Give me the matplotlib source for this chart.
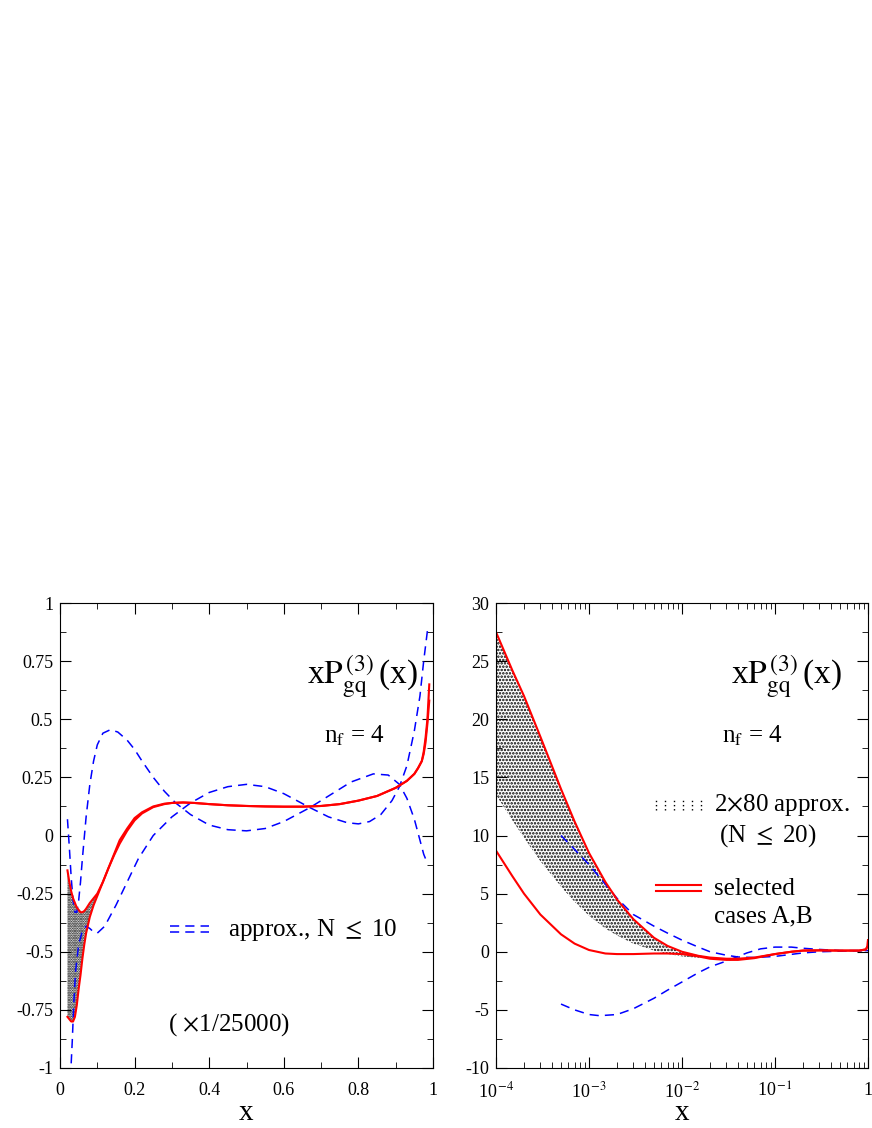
import matplotlib
matplotlib.use("Agg")
import matplotlib.pyplot as plt
import numpy as np
from matplotlib.ticker import MultipleLocator, LogLocator, NullFormatter, FixedLocator

plt.rcParams['font.family'] = 'Liberation Serif'
plt.rcParams['mathtext.fontset'] = 'stix'
plt.rcParams['axes.unicode_minus'] = False

# ---- left panel data (x linear) ----
L_redA_x = [0.02, 0.025, 0.03, 0.035, 0.04, 0.045, 0.05, 0.055, 0.06, 0.065, 0.07, 0.08, 0.09, 0.1, 0.115, 0.13, 0.145, 0.16, 0.18, 0.2, 0.22, 0.25, 0.28, 0.3, 0.33, 0.36, 0.4, 0.45, 0.5, 0.55, 0.6, 0.65, 0.7, 0.75, 0.8, 0.85, 0.9, 0.93, 0.95, 0.96, 0.97, 0.975, 0.98, 0.985, 0.99]
L_redA_y = [-0.15, -0.2, -0.24, -0.27, -0.29, -0.31, -0.32, -0.33, -0.33, -0.325, -0.315, -0.29, -0.27, -0.25, -0.2, -0.14, -0.08, -0.02, 0.03, 0.075, 0.1, 0.125, 0.137, 0.14, 0.142, 0.14, 0.135, 0.13, 0.127, 0.125, 0.124, 0.124, 0.127, 0.135, 0.15, 0.17, 0.205, 0.235, 0.265, 0.29, 0.32, 0.36, 0.42, 0.5, 0.65]
L_redB_x = [0.02, 0.025, 0.03, 0.035, 0.04, 0.045, 0.05, 0.055, 0.06, 0.065, 0.07, 0.08, 0.09, 0.1, 0.115, 0.13, 0.145, 0.16, 0.18, 0.2, 0.22, 0.25, 0.28, 0.3, 0.33, 0.36, 0.4, 0.45, 0.5, 0.55, 0.6, 0.65, 0.7, 0.75, 0.8, 0.85, 0.9, 0.93, 0.95, 0.96, 0.97, 0.975, 0.98, 0.985, 0.99]
L_redB_y = [-0.78, -0.79, -0.8, -0.8, -0.78, -0.73, -0.66, -0.6, -0.53, -0.47, -0.42, -0.35, -0.3, -0.26, -0.2, -0.14, -0.085, -0.035, 0.02, 0.065, 0.095, 0.122, 0.135, 0.14, 0.142, 0.14, 0.135, 0.13, 0.127, 0.125, 0.124, 0.124, 0.127, 0.135, 0.15, 0.17, 0.205, 0.235, 0.265, 0.29, 0.32, 0.35, 0.4, 0.48, 0.58]
L_bl1_x = [0.02, 0.025, 0.03, 0.035, 0.04, 0.045, 0.05, 0.055, 0.06, 0.07, 0.08, 0.09, 0.1, 0.115, 0.135, 0.155, 0.18, 0.2, 0.22, 0.25, 0.28, 0.31, 0.35, 0.4, 0.45, 0.5, 0.55, 0.6, 0.67, 0.72, 0.78, 0.84, 0.88, 0.91, 0.93, 0.95, 0.965, 0.975, 0.985]
L_bl1_y = [0.07, -0.05, -0.18, -0.28, -0.33, -0.33, -0.28, -0.2, -0.1, 0.08, 0.22, 0.32, 0.39, 0.44, 0.455, 0.445, 0.41, 0.37, 0.32, 0.25, 0.19, 0.14, 0.09, 0.045, 0.025, 0.02, 0.03, 0.06, 0.12, 0.17, 0.23, 0.265, 0.26, 0.22, 0.16, 0.07, -0.02, -0.08, -0.12]
L_bl2_x = [0.03, 0.033, 0.037, 0.042, 0.05, 0.06, 0.07, 0.08, 0.09, 0.1, 0.12, 0.15, 0.18, 0.21, 0.25, 0.3, 0.35, 0.4, 0.45, 0.5, 0.55, 0.6, 0.67, 0.72, 0.77, 0.8, 0.83, 0.86, 0.89, 0.91, 0.93, 0.95, 0.965, 0.975, 0.985]
L_bl2_y = [-0.98, -0.88, -0.72, -0.58, -0.47, -0.41, -0.39, -0.4, -0.415, -0.42, -0.39, -0.3, -0.2, -0.1, 0.0, 0.08, 0.14, 0.185, 0.21, 0.22, 0.21, 0.18, 0.12, 0.08, 0.055, 0.05, 0.06, 0.09, 0.15, 0.21, 0.3, 0.45, 0.6, 0.75, 0.88]

# ---- right panel data (x log) ----
R_redA_x = [1e-4, 1.5e-4, 2e-4, 3e-4, 5e-4, 7e-4, 1e-3, 1.5e-3, 2e-3, 3e-3, 5e-3, 7e-3, 1e-2, 1.5e-2, 2e-2, 3e-2, 4e-2, 6e-2, 1e-1, 1.5e-1, 2e-1, 3e-1, 5e-1, 0.8, 0.95, 0.99, 1.0]
R_redA_y = [27.5, 24.2, 22.0, 18.5, 14.0, 11.2, 8.5, 6.0, 4.5, 2.8, 1.2, 0.5, 0.0, -0.35, -0.5, -0.6, -0.6, -0.5, -0.2, 0.0, 0.1, 0.12, 0.1, 0.1, 0.2, 0.5, 1.0]
R_redB_x = [1e-4, 1.5e-4, 2e-4, 3e-4, 5e-4, 7e-4, 1e-3, 1.5e-3, 2e-3, 3e-3, 5e-3, 7e-3, 1e-2, 1.5e-2, 2e-2, 3e-2, 4e-2, 6e-2, 1e-1, 1.5e-1, 2e-1, 3e-1, 5e-1, 0.8, 0.95, 0.99, 1.0]
R_redB_y = [8.7, 6.5, 5.0, 3.2, 1.5, 0.7, 0.15, -0.15, -0.2, -0.2, -0.15, -0.15, -0.2, -0.4, -0.6, -0.7, -0.7, -0.55, -0.2, 0.0, 0.1, 0.12, 0.1, 0.1, 0.2, 0.5, 1.0]
R_bl1_x = [5e-4, 7e-4, 1e-3, 1.5e-3, 2e-3, 3e-3, 5e-3, 7e-3, 1e-2, 1.5e-2, 2e-2, 3e-2, 4e-2, 6e-2, 1e-1, 2e-1, 3e-1, 5e-1, 1.0]
R_bl1_y = [10.0, 8.8, 7.5, 5.8, 4.6, 3.2, 2.2, 1.6, 1.0, 0.4, 0.0, -0.3, -0.45, -0.5, -0.4, -0.1, 0.0, 0.05, 0.1]
R_bl2_x = [5e-4, 7e-4, 1e-3, 1.3e-3, 2e-3, 3e-3, 5e-3, 7e-3, 1e-2, 1.5e-2, 2e-2, 3e-2, 5e-2, 7e-2, 1e-1, 1.5e-1, 2e-1, 3e-1, 5e-1, 1.0]
R_bl2_y = [-4.5, -5.0, -5.4, -5.5, -5.4, -4.9, -4.0, -3.3, -2.6, -1.8, -1.3, -0.8, -0.1, 0.25, 0.4, 0.4, 0.3, 0.2, 0.1, 0.1]
R_band_lo_x = [1e-4, 1.5e-4, 2e-4, 3e-4, 5e-4, 7e-4, 1e-3, 1.5e-3, 2e-3, 3e-3, 5e-3, 7e-3, 1e-2, 2e-2, 4e-2]
R_band_lo_y = [13.5, 11.3, 9.8, 7.8, 5.6, 4.3, 3.1, 2.0, 1.4, 0.7, 0.1, -0.2, -0.4, -0.6, -0.7]
R_band_hi_y = [27.5, 24.2, 22.0, 18.5, 14.0, 11.2, 8.5, 6.0, 4.5, 2.8, 1.2, 0.5, 0.0, -0.5, -0.6]

fig = plt.figure(figsize=(8.72, 11.28), dpi=100)
axL = fig.add_axes([60/872, 1-1068/1128, 373/872, 465/1128])
axR = fig.add_axes([496/872, 1-1068/1128, 372/872, 465/1128])

red = '#ff0000'
blue = '#0000ff'
plt.rcParams['hatch.linewidth'] = 1.2

# left
axL.fill_between(L_redB_x, L_redB_y, L_redA_y, facecolor='none',
                 edgecolor='black', hatch='.......', linewidth=0)
axL.plot(L_bl1_x, L_bl1_y, color=blue, ls=(0, (6, 4)), lw=1.1)
axL.plot(L_bl2_x, L_bl2_y, color=blue, ls=(0, (6, 4)), lw=1.1)
axL.plot(L_redA_x, L_redA_y, color=red, lw=1.5)
axL.plot(L_redB_x, L_redB_y, color=red, lw=1.5)
axL.set_xlim(0, 1)
axL.set_ylim(-1, 1)
axL.xaxis.set_minor_locator(MultipleLocator(0.1))
axL.yaxis.set_minor_locator(MultipleLocator(0.125))
axL.set_xticks([0, 0.2, 0.4, 0.6, 0.8, 1.0])
axL.set_xticklabels(['0', '0.2', '0.4', '0.6', '0.8', '1'])
axL.set_yticks([-1, -0.75, -0.5, -0.25, 0, 0.25, 0.5, 0.75, 1])
axL.set_yticklabels(['-1', '-0.75', '-0.5', '-0.25', '0', '0.25', '0.5', '0.75', '1'])
axL.text(0.96, 0.825, r'x$\mathrm{P}_{\mathrm{gq}}^{\,(3)}\,$(x)', transform=axL.transAxes, fontsize=24, ha='right')
axL.text(0.87, 0.70, r'n$_\mathrm{f}$ = 4', transform=axL.transAxes, fontsize=18, ha='right')
axL.text(0.29, 0.08, r'( $\times$1/25000)', transform=axL.transAxes, fontsize=18)
for dy in (0.0, 0.013):
    axL.plot([0.295, 0.40], [0.293 + dy, 0.293 + dy], transform=axL.transAxes, color=blue, ls=(0, (6, 4)), lw=1.1)
axL.text(0.45, 0.283, r'approx., N $\leq$ 10', transform=axL.transAxes, fontsize=18)

# right
axR.fill_between(R_band_lo_x, R_band_lo_y, R_band_hi_y,
                 facecolor='none', edgecolor='black', hatch='.....', linewidth=0)
axR.plot(R_bl1_x, R_bl1_y, color=blue, ls=(0, (6, 4)), lw=1.1)
axR.plot(R_bl2_x, R_bl2_y, color=blue, ls=(0, (6, 4)), lw=1.1)
axR.plot(R_redA_x, R_redA_y, color=red, lw=1.5)
axR.plot(R_redB_x, R_redB_y, color=red, lw=1.5)
axR.set_xscale('log')
axR.set_xlim(1e-4, 1)
axR.set_ylim(-10, 30)
axR.xaxis.set_major_locator(FixedLocator([1e-4, 1e-3, 1e-2, 1e-1, 1]))
axR.xaxis.set_minor_locator(LogLocator(base=10, subs=np.arange(2, 10)))
axR.xaxis.set_minor_formatter(NullFormatter())
axR.set_xticklabels([r'10$^{\,\mathrm{-4}}$', r'10$^{\,\mathrm{-3}}$', r'10$^{\,\mathrm{-2}}$', r'10$^{\,\mathrm{-1}}$', '1'])
axR.set_yticks([-10, -5, 0, 5, 10, 15, 20, 25, 30])
axR.yaxis.set_minor_locator(MultipleLocator(2.5))
axR.text(0.93, 0.825, r'x$\mathrm{P}_{\mathrm{gq}}^{\,(3)}\,$(x)', transform=axR.transAxes, fontsize=24, ha='right')
axR.text(0.77, 0.70, r'n$_\mathrm{f}$ = 4', transform=axR.transAxes, fontsize=18, ha='right')
for xx in np.linspace(0.43, 0.55, 6):
    axR.plot([xx, xx], [0.555, 0.58], transform=axR.transAxes, color='black', ls=(0, (1, 2)), lw=1)
axR.text(0.585, 0.553, r'2$\times$80 approx.', transform=axR.transAxes, fontsize=18)
axR.text(0.6, 0.487, r'(N $\leq$ 20)', transform=axR.transAxes, fontsize=18)
for dy in (0.0, 0.014):
    axR.plot([0.43, 0.55], [0.38 + dy, 0.38 + dy], transform=axR.transAxes, color=red, lw=1.5)
axR.text(0.585, 0.373, 'selected', transform=axR.transAxes, fontsize=18)
axR.text(0.585, 0.312, 'cases A,B', transform=axR.transAxes, fontsize=18)

for ax in (axL, axR):
    ax.tick_params(which='both', direction='in', top=True, right=True, labelsize=13)
    ax.tick_params(which='major', length=8, pad=5)
    ax.tick_params(axis='x', which='major', pad=10)
    ax.tick_params(which='minor', length=4)
    ax.set_xlabel('x', fontsize=21)
    ax.xaxis.set_label_coords(0.5, -0.068)

fig.savefig('out.png', dpi=100)
